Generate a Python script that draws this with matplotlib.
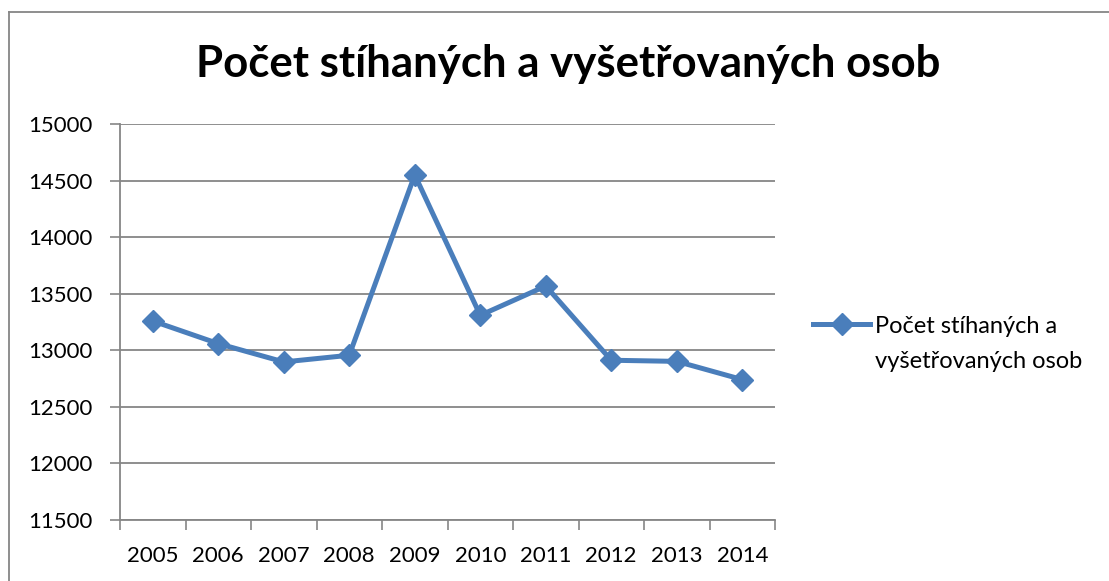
import matplotlib
matplotlib.use("agg")
from matplotlib import pyplot as plt
from matplotlib.lines import Line2D

plt.rcParams['font.family'] = ['Lato', 'DejaVu Sans']

years = ['2005', '2006', '2007', '2008', '2009', '2010', '2011', '2012', '2013', '2014']
persons = [13259, 13059, 12897, 12956, 14550, 13309, 13568, 12912, 12902, 12741]
series_name = 'Počet stíhaných a vyšetřovaných osob'
legend_lines = ['Počet stíhaných a', 'vyšetřovaných osob']

W, H = 1109, 581
blue = '#4a7ebb'
grey = '#868686'

fig = plt.figure(figsize=(W / 100, H / 100), dpi=100)
ax = fig.add_axes([120 / W, (H - 520) / H, 655 / W, 396 / H])

x = list(range(len(years)))
ax.plot(x, persons, color=blue, lw=3.6, marker='D', markersize=11.5, zorder=3)

ax.set_xlim(-0.5, len(years) - 0.5)
ax.set_ylim(11500, 15000)
ax.set_yticks(range(11500, 15001, 500))
ax.set_xticks(x)
ax.set_xticklabels(years)
ax.set_xticks([i - 0.5 for i in range(len(years) + 1)], minor=True)
ax.tick_params(axis='x', which='major', length=0, pad=19, labelsize=16)
ax.tick_params(axis='x', which='minor', length=7, width=1.2, color=grey, direction='out')
ax.tick_params(axis='y', length=7, width=1.2, color=grey, labelsize=16, pad=13)
ax.grid(axis='y', color=grey, lw=1.3)
ax.set_axisbelow(True)
for side in ['top', 'right']:
    ax.spines[side].set_visible(False)
for side in ['left', 'bottom']:
    ax.spines[side].set_color(grey)
    ax.spines[side].set_linewidth(1.3)

fig.text(568 / W, 1 - 64 / H, series_name, ha='center', va='center',
         fontsize=31.5, fontweight='bold')

# legend, built by hand so the key sits on the first text line
ly = 1 - 324 / H
fig.add_artist(Line2D([813 / W, 870 / W], [ly, ly], color=blue, lw=3.6))
fig.add_artist(Line2D([841.5 / W], [ly], color=blue, marker='D', markersize=11.5))
fig.text(875 / W, 1 - 333 / H, legend_lines[0], ha='left', va='baseline', fontsize=17)
fig.text(875 / W, 1 - 368 / H, legend_lines[1], ha='left', va='baseline', fontsize=17)

# chart area border (only top and left visible in the crop)
fig.add_artist(Line2D([9 / W, 1], [1 - 11.5 / H, 1 - 11.5 / H], color=grey, lw=1.3))
fig.add_artist(Line2D([9 / W, 9 / W], [0, 1 - 11.5 / H], color=grey, lw=1.3))

plt.savefig("out.png", dpi=100)
